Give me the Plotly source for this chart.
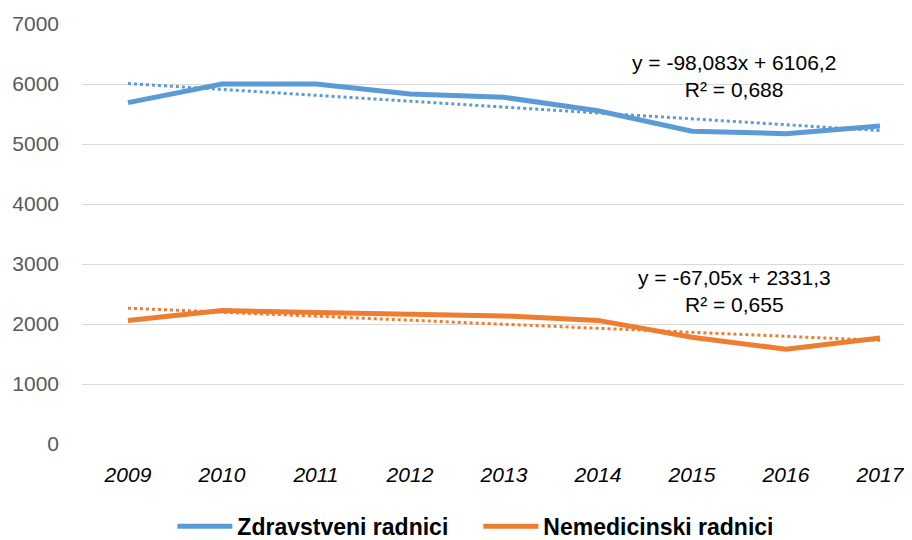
import plotly.graph_objects as go

years = ["2009", "2010", "2011", "2012", "2013", "2014", "2015", "2016", "2017"]
zdravstveni = [5690, 6000, 6000, 5835, 5778, 5555, 5212, 5172, 5300]
nemedicinski = [2060, 2225, 2190, 2170, 2135, 2060, 1780, 1580, 1765]

trend_z = (-98.083, 6106.2)
trend_n = (-67.05, 2331.3)
label_z = ["y = -98,083x + 6106,2", "R² = 0,688"]
label_n = ["y = -67,05x + 2331,3", "R² = 0,655"]
y_ticks = [0, 1000, 2000, 3000, 4000, 5000, 6000, 7000]

BLUE = "#5B9BD5"
ORANGE = "#ED7D31"
FONT = "Liberation Sans, Arial, sans-serif"

idx = list(range(len(years)))
fig = go.Figure()
fig.add_trace(go.Scatter(x=idx, y=zdravstveni, mode="lines", name="Zdravstveni radnici",
                         line=dict(color=BLUE, width=5)))
fig.add_trace(go.Scatter(x=idx, y=nemedicinski, mode="lines", name="Nemedicinski radnici",
                         line=dict(color=ORANGE, width=5)))
fig.add_trace(go.Scatter(x=idx, y=[trend_z[1] + trend_z[0] * (i + 1) for i in idx], mode="lines",
                         line=dict(color=BLUE, width=3, dash="dot"), showlegend=False, hoverinfo="skip"))
fig.add_trace(go.Scatter(x=idx, y=[trend_n[1] + trend_n[0] * (i + 1) for i in idx], mode="lines",
                         line=dict(color=ORANGE, width=3, dash="dot"), showlegend=False, hoverinfo="skip"))

fig.add_annotation(x=6.45, y=6133, xref="x", yref="y", text=label_z[0] + "<br>" + label_z[1],
                   showarrow=False, font=dict(family=FONT, size=21, color="#000000"),
                   yanchor="middle", align="center")
fig.add_annotation(x=6.45, y=2550, xref="x", yref="y", text=label_n[0] + "<br>" + label_n[1],
                   showarrow=False, font=dict(family=FONT, size=21, color="#000000"),
                   yanchor="middle", align="center")

fig.update_layout(
    width=912, height=540,
    margin=dict(l=74, r=0, t=16, b=104),
    plot_bgcolor="white", paper_bgcolor="white",
    font=dict(family=FONT, size=21, color="#595959"),
    legend=dict(orientation="h", x=0.473, xanchor="center", y=-0.145, yanchor="top",
                font=dict(family=FONT, size=23, color="#000000", weight="bold"),
                itemwidth=55, entrywidth=236, entrywidthmode="pixels"),
    showlegend=True,
)
fig.update_xaxes(range=[-0.489, 8.426], tickmode="array", tickvals=idx,
                 ticktext=["<i>" + y + "</i>" for y in years],
                 showgrid=False, zeroline=False, showline=False, ticks="",
                 ticklabelstandoff=16, tickfont=dict(family=FONT, size=21, color="#000000"))
fig.update_yaxes(range=[0, 7000], tickvals=y_ticks, showgrid=True, gridcolor="#D9D9D9",
                 gridwidth=1, zeroline=False, showline=False, ticks="",
                 ticklabelstandoff=22, tickfont=dict(family=FONT, size=21, color="#595959"))

fig.write_html("out.html")
